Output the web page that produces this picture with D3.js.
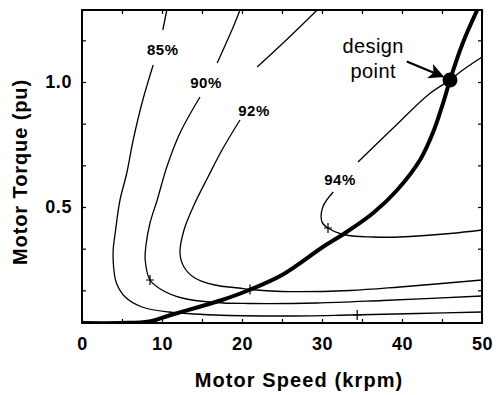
<!DOCTYPE html>
<html>
<head>
<meta charset="utf-8">
<script src="https://cdn.jsdelivr.net/npm/d3@7/dist/d3.min.js"></script>
<style>
  html, body { margin: 0; padding: 0; background: #fff; }
  svg { display: block; font-family: "Liberation Sans", Arial, Helvetica, sans-serif; }
  .axis text { font-size: 18px; font-weight: bold; fill: #000; letter-spacing: 0.6px; }
  .axis line { stroke: #000; stroke-width: 1.2; }
  .axis path { display: none; }
</style>
</head>
<body>
<svg id="chart" width="498" height="395"></svg>
<script>
// efficiency contours, [speed krpm, torque pu]; null = gap for the label
const eff85 = [[10.6, 1.288], [10.1, 1.208], null, [8.9, 1.068], [7.6, 0.928], [6.4, 0.768], [5.6, 0.636], [4.75, 0.528], [4.15, 0.396], [3.9, 0.328], [3.95, 0.26], [4.3, 0.196], [5.4, 0.14], [7.5, 0.1], [10.9, 0.08], [16.6, 0.068], [25, 0.064], [33.5, 0.068], [41.9, 0.074], [50, 0.08]];
const eff90 = [[19.75, 1.288], [18.9, 1.22], [16.9, 1.076], null, [14.75, 0.94], [12.25, 0.796], [10.6, 0.66], [9.4, 0.528], [8.5, 0.436], [8.0, 0.348], [7.9, 0.288], [8.5, 0.208], [10, 0.168], [12.5, 0.136], [16.6, 0.118], [21, 0.114], [29.4, 0.116], [37.6, 0.126], [50, 0.144]];
const eff92 = [[29.4, 1.288], [25.6, 1.17], [21.9, 1.06], null, [19.75, 0.848], [17.5, 0.728], [15.75, 0.62], [14, 0.508], [12.75, 0.408], [12.25, 0.316], [12.75, 0.26], [14.1, 0.216], [16.6, 0.188], [19.6, 0.176], [21, 0.17], [25, 0.162], [33.5, 0.166], [39.75, 0.18], [50, 0.208]];
const eff94 = [[50, 1.1], [47.6, 1.048], [46, 1.008], [43.4, 0.952], [38.9, 0.816], [34.5, 0.68], null, [31.4, 0.56], [30.1, 0.5], [30, 0.44], [30.75, 0.416], [32.6, 0.39], [36.4, 0.38], [39.75, 0.38], [46, 0.394], [50, 0.408]];
const designLine = [[0, 0.036], [4.75, 0.036], [8.4, 0.042], [10.9, 0.066], [14.6, 0.1], [17.5, 0.128], [20.9, 0.168], [25, 0.228], [30.1, 0.34], [32.6, 0.39], [36.4, 0.476], [39.4, 0.568], [42.25, 0.688], [43.9, 0.8], [45.2, 0.922], [46, 1.008], [47.6, 1.156], [49.4, 1.288]];

const contourLabels = ['85%', '90%', '92%', '94%'];
const labelSpeed = [10.1, 15.5, 21.5, 32.25];
const labelTorque = [1.128, 0.996, 0.884, 0.608];

const optimumMarks = [[34.4, 0.068], [8.5, 0.208], [21, 0.17], [30.75, 0.416]];
const designPoint = [46, 1.008];

const xTicks = [0, 5, 10, 15, 20, 25, 30, 35, 40, 45, 50];
const yTicks = [1 / 6, 2 / 6, 3 / 6, 4 / 6, 5 / 6, 1, 7 / 6];
const yTickLabels = { 0.5: '0.5', 1: '1.0' };

const svg = d3.select('#chart');
const x = d3.scaleLinear().domain([0, 50]).range([82, 482]);
const y = d3.scaleLinear().domain([0.036, 1.288]).range([323, 10]);

svg.append('clipPath').attr('id', 'plot-clip')
  .append('rect').attr('x', x(0)).attr('y', y(1.288)).attr('width', x(50) - x(0)).attr('height', y(0.036) - y(1.288));

// axes: inward ticks all round, labels on bottom / left
svg.append('g').attr('class', 'axis').attr('transform', `translate(0,${y(0.036)})`)
  .call(d3.axisBottom(x).tickValues(xTicks).tickSizeInner(-4).tickSizeOuter(0).tickPadding(14)
    .tickFormat((v) => (v % 10 === 0 ? `${v}` : '')));
svg.append('g').attr('class', 'axis').attr('transform', `translate(0,${y(1.288)})`)
  .call(d3.axisTop(x).tickValues(xTicks).tickSizeInner(-4).tickSizeOuter(0).tickFormat(''));
svg.append('g').attr('class', 'axis').attr('transform', `translate(${x(0)},0)`)
  .call(d3.axisLeft(y).tickValues(yTicks).tickSizeInner(-4).tickSizeOuter(0).tickPadding(10)
    .tickFormat((v) => yTickLabels[Math.round(v * 1000) / 1000] || ''));
svg.append('g').attr('class', 'axis').attr('transform', `translate(${x(50)},0)`)
  .call(d3.axisRight(y).tickValues(yTicks).tickSizeInner(-4).tickSizeOuter(0).tickFormat(''));

svg.append('rect')
  .attr('x', x(0)).attr('y', y(1.288)).attr('width', x(50) - x(0)).attr('height', y(0.036) - y(1.288))
  .attr('fill', 'none').attr('stroke', '#000').attr('stroke-width', 2);

const line = d3.line().defined((d) => d !== null).x((d) => x(d[0])).y((d) => y(d[1])).curve(d3.curveCatmullRom.alpha(0.5));
const plot = svg.append('g').attr('clip-path', 'url(#plot-clip)');

[eff85, eff90, eff92, eff94].forEach((pts) => {
  plot.append('path').attr('d', line(pts)).attr('fill', 'none').attr('stroke', '#000').attr('stroke-width', 1.3);
});
plot.append('path').attr('d', line(designLine)).attr('fill', 'none').attr('stroke', '#000').attr('stroke-width', 4).attr('stroke-linecap', 'round');

plot.selectAll('path.mark')
  .data(optimumMarks)
  .join('path')
  .attr('class', 'mark')
  .attr('d', (d) => `M${x(d[0]) - 4},${y(d[1])}H${x(d[0]) + 4}M${x(d[0])},${y(d[1]) - 5}V${y(d[1]) + 5}`)
  .attr('stroke', '#000').attr('stroke-width', 1.2);

svg.append('circle').attr('cx', x(designPoint[0])).attr('cy', y(designPoint[1])).attr('r', 7.5).attr('fill', '#000');

svg.selectAll('text.clabel')
  .data(contourLabels)
  .join('text')
  .attr('class', 'clabel')
  .attr('x', (d, i) => x(labelSpeed[i]))
  .attr('y', (d, i) => y(labelTorque[i]))
  .attr('dy', '0.36em')
  .attr('text-anchor', 'middle')
  .attr('font-size', 15).attr('font-weight', 'bold').attr('letter-spacing', 0.5)
  .text((d) => d);

// annotation
const note = svg.append('text').attr('text-anchor', 'middle').attr('font-size', 20).attr('letter-spacing', 0.4);
note.append('tspan').attr('x', x(36.4)).attr('y', y(1.115)).text('design');
note.append('tspan').attr('x', x(36.4)).attr('y', y(1.015)).text('point');

svg.append('defs').append('marker')
  .attr('id', 'head').attr('viewBox', '0 0 10 10').attr('refX', 9).attr('refY', 5)
  .attr('markerWidth', 7.5).attr('markerHeight', 7).attr('markerUnits', 'strokeWidth').attr('orient', 'auto')
  .append('path').attr('d', 'M0,0L10,5L0,10L2.5,5Z').attr('fill', '#000');
svg.append('line')
  .attr('x1', x(40.6)).attr('y1', y(1.082)).attr('x2', x(45.1)).attr('y2', y(1.022))
  .attr('stroke', '#000').attr('stroke-width', 2.2).attr('marker-end', 'url(#head)');

svg.append('text')
  .attr('x', 299).attr('y', 387).attr('text-anchor', 'middle')
  .attr('font-size', 20).attr('font-weight', 'bold').attr('letter-spacing', 1.1)
  .text('Motor Speed (krpm)');
svg.append('text')
  .attr('transform', 'translate(27,172) rotate(-90)').attr('text-anchor', 'middle')
  .attr('font-size', 20).attr('font-weight', 'bold').attr('letter-spacing', 0.9)
  .text('Motor Torque (pu)');
</script>
</body>
</html>
